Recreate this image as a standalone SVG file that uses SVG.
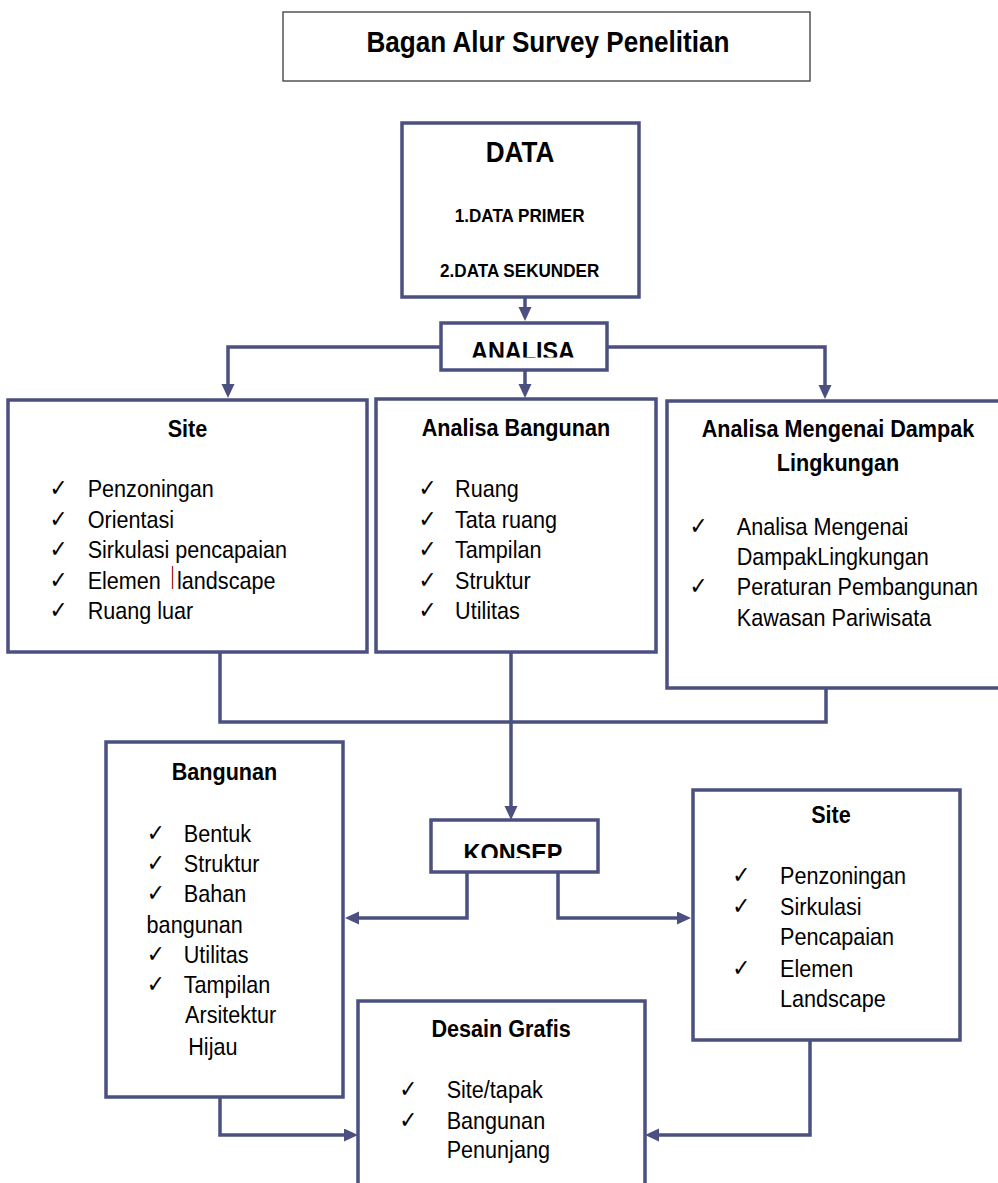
<svg xmlns="http://www.w3.org/2000/svg" width="998" height="1183" viewBox="0 0 998 1183">
<style>
.box{fill:#fff;stroke:#4b5081;stroke-width:3.5}
.ttl{fill:#fff;stroke:#3a3a3a;stroke-width:1.3}
.con{fill:none;stroke:#4b5081;stroke-width:3.5}
text{font-family:"Liberation Sans",Arial,sans-serif;fill:#000}
.b{font-weight:bold}
.h{font-size:24px;font-weight:bold;text-anchor:middle}
.t{font-size:24px}
.ck{font-family:"DejaVu Sans",sans-serif;font-size:24px}
.c{text-anchor:middle}
</style>
<defs>
<marker id="ah" markerUnits="userSpaceOnUse" markerWidth="16" markerHeight="14" refX="6" refY="6.5" orient="auto">
<path d="M0,0 L14,6.5 L0,13 z" fill="#4b5081"/>
</marker>
<clipPath id="clipA" clipPathUnits="userSpaceOnUse"><rect x="0" y="320" width="1200" height="37.5"/></clipPath>
<clipPath id="clipK" clipPathUnits="userSpaceOnUse"><rect x="0" y="822" width="1200" height="36"/></clipPath>
</defs>

<g id="title">
<rect class="ttl" x="283" y="12" width="527" height="69"/>
<g transform="scale(0.9 1)"><text class="b c" x="608.9" y="52" font-size="29">Bagan Alur Survey Penelitian</text></g>
</g>

<g id="connectors">
<path class="con" d="M525 297 V313" marker-end="url(#ah)"/>
<path class="con" d="M441 347 H228 V390" marker-end="url(#ah)"/>
<path class="con" d="M607 347 H825 V391" marker-end="url(#ah)"/>
<path class="con" d="M525 370 V390" marker-end="url(#ah)"/>
<path class="con" d="M220 652 V722 H826 V688"/>
<path class="con" d="M511 652 V812" marker-end="url(#ah)"/>
<path class="con" d="M467 872 V918 H353" marker-end="url(#ah)"/>
<path class="con" d="M558 872 V918 H683" marker-end="url(#ah)"/>
<path class="con" d="M220 1097 V1135 H350" marker-end="url(#ah)"/>
<path class="con" d="M810 1040 V1135 H653" marker-end="url(#ah)"/>
</g>

<g id="data">
<rect class="box" x="402" y="123" width="237" height="174"/>
<g transform="scale(0.9 1)">
<text class="b c" x="577.8" y="162" font-size="29">DATA</text>
<text class="b c" x="577.4" y="222" font-size="19">1.DATA PRIMER</text>
<text class="b c" x="577.4" y="277" font-size="19">2.DATA SEKUNDER</text>
</g>
</g>

<g id="analisa">
<rect class="box" x="441" y="323" width="166" height="47"/>
<g transform="scale(0.9 1)"><text class="b c" x="581.1" y="360" font-size="26" clip-path="url(#clipA)">ANALISA</text></g>
</g>

<g id="site-analisa">
<rect class="box" x="8" y="400" width="359" height="252"/>
<g transform="scale(0.9 1)">
<text class="h" x="208.3" y="437">Site</text>
<text class="ck" x="55" y="496">✓</text>
<text class="ck" x="55" y="527">✓</text>
<text class="ck" x="55" y="557">✓</text>
<text class="ck" x="55" y="588">✓</text>
<text class="ck" x="55" y="618">✓</text>
<text class="t" x="97.4" y="497">Penzoningan</text>
<text class="t" x="97.4" y="528">Orientasi</text>
<text class="t" x="97.4" y="558">Sirkulasi pencapaian</text>
<text class="t" x="97.4" y="589">Elemen <tspan x="196.7">landscape</tspan></text>
<text class="t" x="97.4" y="619">Ruang luar</text>
</g>
<line x1="172.5" y1="566" x2="172.5" y2="589" stroke="#b22222" stroke-width="1.3"/>
</g>

<g id="analisa-bangunan">
<rect class="box" x="376" y="399" width="280" height="253"/>
<g transform="scale(0.9 1)">
<text class="h" x="573.3" y="436">Analisa Bangunan</text>
<text class="ck" x="465" y="496">✓</text>
<text class="ck" x="465" y="527">✓</text>
<text class="ck" x="465" y="557">✓</text>
<text class="ck" x="465" y="588">✓</text>
<text class="ck" x="465" y="618">✓</text>
<text class="t" x="505.6" y="497">Ruang</text>
<text class="t" x="505.6" y="528">Tata ruang</text>
<text class="t" x="505.6" y="558">Tampilan</text>
<text class="t" x="505.6" y="589">Struktur</text>
<text class="t" x="505.6" y="619">Utilitas</text>
</g>
</g>

<g id="analisa-dampak">
<rect class="box" x="667" y="401" width="345" height="287"/>
<g transform="scale(0.9 1)">
<text class="h" x="931.1" y="437">Analisa Mengenai Dampak</text>
<text class="h" x="931.1" y="471">Lingkungan</text>
<text class="ck" x="766" y="534">✓</text>
<text class="ck" x="766" y="594">✓</text>
<text class="t" x="818.6" y="535">Analisa Mengenai</text>
<text class="t" x="818.6" y="565">DampakLingkungan</text>
<text class="t" x="818.6" y="595">Peraturan Pembangunan</text>
<text class="t" x="818.6" y="626">Kawasan Pariwisata</text>
</g>
</g>

<g id="konsep">
<rect class="box" x="431" y="820" width="167" height="52"/>
<g transform="scale(0.9 1)"><text class="b c" x="570" y="862" font-size="26" clip-path="url(#clipK)">KONSEP</text></g>
</g>

<g id="bangunan">
<rect class="box" x="106" y="742" width="237" height="355"/>
<g transform="scale(0.9 1)">
<text class="h" x="249.4" y="780">Bangunan</text>
<text class="ck" x="163" y="841">✓</text>
<text class="ck" x="163" y="871">✓</text>
<text class="ck" x="163" y="901">✓</text>
<text class="ck" x="163" y="962">✓</text>
<text class="ck" x="163" y="992">✓</text>
<text class="t" x="204.2" y="842">Bentuk</text>
<text class="t" x="204.2" y="872">Struktur</text>
<text class="t" x="204.2" y="902">Bahan</text>
<text class="t" x="162.9" y="933">bangunan</text>
<text class="t" x="204.2" y="963">Utilitas</text>
<text class="t" x="204.2" y="993">Tampilan</text>
<text class="t" x="205.6" y="1023">Arsitektur</text>
<text class="t" x="209.2" y="1055">Hijau</text>
</g>
</g>

<g id="site-konsep">
<rect class="box" x="693" y="790" width="267" height="250"/>
<g transform="scale(0.9 1)">
<text class="h" x="923.3" y="823">Site</text>
<text class="ck" x="813.5" y="883">✓</text>
<text class="ck" x="813.5" y="914">✓</text>
<text class="ck" x="813.5" y="976">✓</text>
<text class="t" x="866.7" y="884">Penzoningan</text>
<text class="t" x="866.7" y="915">Sirkulasi</text>
<text class="t" x="866.7" y="945">Pencapaian</text>
<text class="t" x="866.7" y="977">Elemen</text>
<text class="t" x="866.7" y="1007">Landscape</text>
</g>
</g>

<g id="desain-grafis">
<rect class="box" x="358" y="1001" width="287" height="200"/>
<g transform="scale(0.9 1)">
<text class="h" x="556.7" y="1037">Desain Grafis</text>
<text class="ck" x="443.5" y="1097">✓</text>
<text class="ck" x="443.5" y="1128">✓</text>
<text class="t" x="496.3" y="1098">Site/tapak</text>
<text class="t" x="496.3" y="1129">Bangunan</text>
<text class="t" x="496.3" y="1158">Penunjang</text>
</g>
</g>
</svg>
